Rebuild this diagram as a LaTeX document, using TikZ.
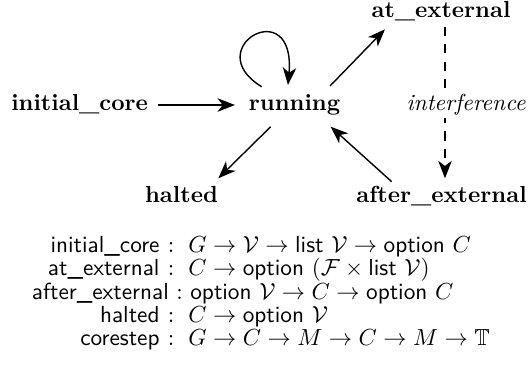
\documentclass[tikz,border=0pt]{standalone}
\usepackage{amssymb}
\usetikzlibrary{arrows.meta,calc}

\tikzset{
  state/.style={font=\bfseries, inner sep=0pt, text height=7pt, text depth=2pt},
  arr/.style={-{Stealth[length=7.5pt,width=5.8pt,inset=2.2pt]}, line width=0.6pt},
  dasharr/.style={arr, dash pattern=on 4pt off 3.5pt},
  signame/.style={font=\sffamily, inner sep=0pt, anchor=base east},
  sigtype/.style={font=\sffamily, inner sep=0pt, anchor=base west},
}

\begin{document}
\begin{tikzpicture}[x=0.43pt, y=-0.43pt]
  \path[use as bounding box] (0,0) rectangle (528,381);

  % states of the core
  \node[state] (init)    at (79.6,104.2)  {initial\_core};
  \node[state] (running) at (294.6,104.2) {running};
  \node[state] (atext)   at (441,11.2)    {at\_external};
  \node[state] (halted)  at (181.5,196.7) {halted};
  \node[state] (afterext) at (441.5,196.7) {after\_external};

  % transitions
  \draw[arr] ($(init)+(78.7,0.8)$) -- ($(running)+(-59.6,0.8)$);
  \draw[arr] ($(running)+(-32.9,-17.5)$)
      .. controls ($(running)+(-96.6,-56.2)$) and ($(running)+(1.4,-112.2)$)
      .. ($(running)+(-6.6,-19.2)$);
  \draw[arr] ($(running)+(35.4,-18.2)$) -- ($(atext)+(-56,18.1)$);
  \draw[arr] ($(running)+(-23.9,22.5)$) -- ($(halted)+(36.8,-18.4)$);
  \draw[arr] ($(afterext)+(-49.8,-15)$) -- ($(running)+(36.1,22.5)$);

  % the environment steps in between
  \draw[dasharr] ($(atext)+(4,15.5)$) -- ($(afterext)+(3.5,-18.4)$);
  \node[state, font=\itshape, fill=white, inner sep=1.5pt] (interf) at (466,104.2) {interference};

  % signatures of the interface
  \node[signame] (n1) at (160,252.3)   {initial\_core};
  \node[sigtype] (t1) at (167.5,252.3) {$\mathord{:}\hskip 6pt G \to \mathcal{V} \to \textsf{list}\ \mathcal{V} \to \textsf{option}\ C$};
  \node[signame] (n2) at (160,275.7)   {at\_external};
  \node[sigtype] (t2) at (167.5,275.7) {$\mathord{:}\hskip 6pt C \to \textsf{option}\ (\mathcal{F} \times \textsf{list}\ \mathcal{V})$};
  \node[signame] (n3) at (169.3,299)   {after\_external};
  \node[sigtype] (t3) at (176,299)     {$\mathord{:}\hskip 3.2pt \textsf{option}\ \mathcal{V} \to C \to \textsf{option}\ C$};
  \node[signame] (n4) at (160,322.3)   {halted};
  \node[sigtype] (t4) at (167.5,322.3) {$\mathord{:}\hskip 6pt C \to \textsf{option}\ \mathcal{V}$};
  \node[signame] (n5) at (160,345.7)   {corestep};
  \node[sigtype] (t5) at (167.5,345.7) {$\mathord{:}\hskip 6pt G \to C \to M \to C \to M \to \mathbb{T}$};
\end{tikzpicture}
\end{document}
